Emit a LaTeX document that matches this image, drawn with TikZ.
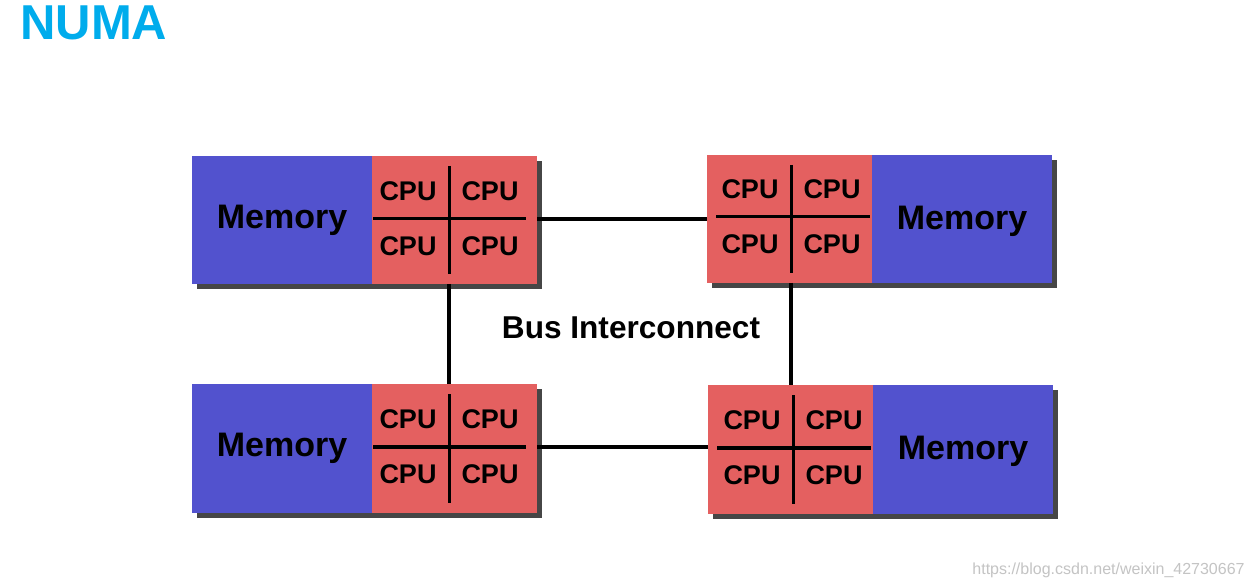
\documentclass[tikz,border=0pt]{standalone}
\usepackage{fontspec}
\setmainfont{Liberation Sans}
\usepackage{tikz}
\usetikzlibrary{shadows,positioning}
\definecolor{memBlue}{RGB}{82,82,206}
\definecolor{cpuRed}{RGB}{228,96,96}
\definecolor{numaCyan}{RGB}{0,172,236}
\definecolor{markGray}{RGB}{196,196,196}
\tikzstyle{memory} = [rectangle,fill=memBlue,minimum width=90pt,minimum height=64pt,inner sep=0pt,outer sep=0pt,font=\bfseries\fontsize{17}{17}\selectfont,drop shadow={shadow xshift=2.5pt,shadow yshift=-2.5pt,fill=black!85,opacity=.85}]
\tikzstyle{cpu} = [memory,fill=cpuRed,minimum width=82.5pt]
\tikzstyle{cpuLabel} = [inner sep=0pt,font=\bfseries\fontsize{13.5}{13.5}\selectfont]
\tikzstyle{line} = [draw,line width=2pt]
\tikzstyle{cross} = [draw,line width=1.5pt]

\begin{document}
\begin{tikzpicture}[x=0.5pt,y=-0.5pt]
		\useasboundingbox[fill=white](0,0) rectangle (1254,588);
		\node[anchor=base west,inner sep=0pt,text=numaCyan,font=\bfseries\fontsize{24.5}{24.5}\selectfont](title) at (20,40){NUMA};
		%left blocks
		\node[memory](memTL) at (282,220){Memory};
		\node[cpu,right=0pt of memTL](cpuTL){};
		\node[memory](memBL) at (282,448.5){Memory};
		\node[cpu,right=0pt of memBL](cpuBL){};
		%right blocks
		\node[cpu](cpuTR) at (789.5,219){};
		\node[memory,right=0pt of cpuTR,text depth=1.5pt](memTR){Memory};
		\node[cpu](cpuBR) at (790.5,449.5){};
		\node[memory,right=0pt of cpuBR,text depth=1.5pt](memBR){Memory};
		\coordinate (splitTL) at ([xshift=-2.75pt,yshift=0.5pt]cpuTL.center);
		\coordinate (splitBL) at ([xshift=-2.75pt,yshift=0.75pt]cpuBL.center);
		\coordinate (splitTR) at ([xshift=0.75pt,yshift=1pt]cpuTR.center);
		\coordinate (splitBR) at ([xshift=1.25pt,yshift=0.75pt]cpuBR.center);
		%cpu crosses
		\foreach \s/\l/\r in {TL/0.5/-5.5,BL/0.5/-5.5,TR/4.5/-1,BR/4.5/-1}{
			\path[cross]([yshift=-5pt]split\s |- cpu\s.north)--([yshift=5pt]split\s |- cpu\s.south);
			\path[cross]([xshift=\l pt]cpu\s.west |- split\s)--([xshift=\r pt]cpu\s.east |- split\s);
			\foreach \dx/\dy/\q in {-20.5/14/a,20.5/14/b,-20.5/-13.5/c,20.5/-13.5/d}
				\node[cpuLabel](cpu\s\q) at ([xshift=\dx pt,yshift=\dy pt]split\s){CPU};
		}
		%bus
		\path[line](cpuTL.east |- splitTL)--(cpuTR.west |- splitTL);
		\path[line](cpuBL.east |- splitBL)--(cpuBR.west |- splitBL);
		\path[line](splitTL |- cpuTL.south)--(splitTL |- cpuBL.north);
		\path[line](splitTR |- cpuTR.south)--(splitTR |- cpuBR.north);
		\node[font=\bfseries\fontsize{15.8}{15.8}\selectfont](bus) at (631,328){Bus Interconnect};
		\node[anchor=east,inner sep=0pt,text=markGray,font=\fontsize{8}{8}\selectfont](mark) at (1245,570){https://blog.csdn.net/weixin\_42730667};
	\end{tikzpicture}
\end{document}
